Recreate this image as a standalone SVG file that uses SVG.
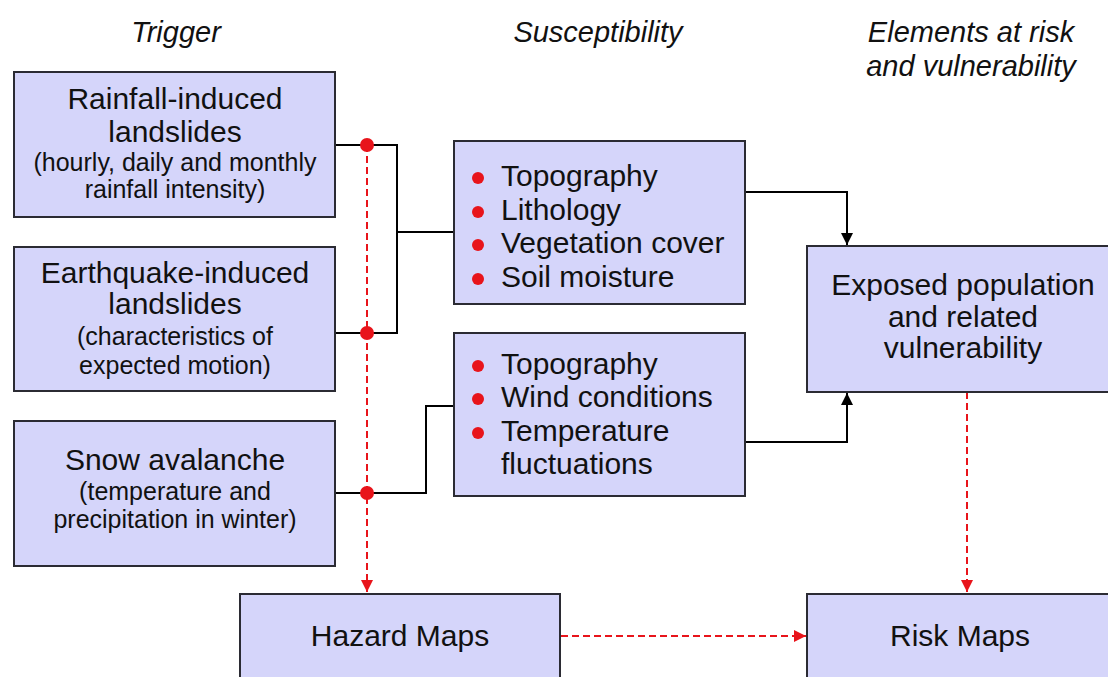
<svg xmlns="http://www.w3.org/2000/svg" width="1108" height="677" viewBox="0 0 1108 677">
<style>
.box{fill:#d5d5fa;stroke:#2b2b33;stroke-width:2}
.t{font-family:"Liberation Sans",Arial,sans-serif;font-size:30px;fill:#111}
.s{font-family:"Liberation Sans",Arial,sans-serif;font-size:25px;fill:#111}
.h{font-family:"Liberation Sans",Arial,sans-serif;font-size:29px;font-style:italic;fill:#111}
.c{text-anchor:middle}
.ln{fill:none;stroke:#000;stroke-width:2}
.rd{fill:none;stroke:#e8141b;stroke-width:2;stroke-dasharray:7,4}
.dot{fill:#e8141b}
</style>
<defs>
<marker id="ab" viewBox="0 0 10 10" refX="10" refY="5" markerWidth="6" markerHeight="6" orient="auto" markerUnits="strokeWidth"><path d="M0,0 L10,5 L0,10 z" fill="#000"/></marker>
<marker id="ar" viewBox="0 0 10 10" refX="10" refY="5" markerWidth="6" markerHeight="6" orient="auto" markerUnits="strokeWidth"><path d="M0,0 L10,5 L0,10 z" fill="#e8141b"/></marker>
</defs>
<rect width="1108" height="677" fill="#fff"/>
<g id="headers">
<text class="h c" x="176" y="42">Trigger</text>
<text class="h c" x="598" y="42">Susceptibility</text>
<text class="h c" x="971" y="42">Elements at risk</text>
<text class="h c" x="971" y="76">and vulnerability</text>
</g>
<g id="connectors">
<path class="ln" d="M335,145 H397 V333 H335"/>
<path class="ln" d="M397,232 H455"/>
<path class="ln" d="M335,493 H426 V406 H455"/>
<path class="ln" d="M745,192 H847 V245" marker-end="url(#ab)"/>
<path class="ln" d="M745,442 H847 V393" marker-end="url(#ab)"/>
<path class="rd" d="M367,145 V592" marker-end="url(#ar)"/>
<path class="rd" d="M967,392 V592" marker-end="url(#ar)"/>
<path class="rd" d="M561,636 H806" stroke-width="2.5" marker-end="url(#ar)"/>
<circle class="dot" cx="367" cy="145" r="7"/>
<circle class="dot" cx="367" cy="333" r="7"/>
<circle class="dot" cx="367" cy="493" r="7"/>
</g>
<g id="rainfall">
<rect class="box" x="14" y="72" width="321" height="145"/>
<text class="t c" x="175" y="109">Rainfall-induced</text>
<text class="t c" x="175" y="142">landslides</text>
<text class="s c" x="175" y="171">(hourly, daily and monthly</text>
<text class="s c" x="175" y="198">rainfall intensity)</text>
</g>
<g id="earthquake">
<rect class="box" x="14" y="247" width="321" height="144"/>
<text class="t c" x="175" y="283">Earthquake-induced</text>
<text class="t c" x="175" y="314">landslides</text>
<text class="s c" x="175" y="345">(characteristics of</text>
<text class="s c" x="175" y="374">expected motion)</text>
</g>
<g id="snow">
<rect class="box" x="14" y="421" width="321" height="145"/>
<text class="t c" x="175" y="470">Snow avalanche</text>
<text class="s c" x="175" y="500">(temperature and</text>
<text class="s c" x="175" y="528">precipitation in winter)</text>
</g>
<g id="susc-landslide">
<rect class="box" x="454" y="141" width="291" height="163"/>
<circle class="dot" cx="478" cy="178" r="6"/>
<circle class="dot" cx="478" cy="212" r="6"/>
<circle class="dot" cx="478" cy="245" r="6"/>
<circle class="dot" cx="478" cy="279" r="6"/>
<text class="t" x="501" y="186">Topography</text>
<text class="t" x="501" y="220">Lithology</text>
<text class="t" x="501" y="253">Vegetation cover</text>
<text class="t" x="501" y="287">Soil moisture</text>
</g>
<g id="susc-avalanche">
<rect class="box" x="454" y="333" width="291" height="163"/>
<circle class="dot" cx="478" cy="366" r="6"/>
<circle class="dot" cx="478" cy="399" r="6"/>
<circle class="dot" cx="478" cy="433" r="6"/>
<text class="t" x="501" y="374">Topography</text>
<text class="t" x="501" y="407">Wind conditions</text>
<text class="t" x="501" y="441">Temperature</text>
<text class="t" x="501" y="474">fluctuations</text>
</g>
<g id="exposed">
<rect class="box" x="807" y="246" width="315" height="146"/>
<text class="t c" x="963" y="295">Exposed population</text>
<text class="t c" x="963" y="327">and related</text>
<text class="t c" x="963" y="358">vulnerability</text>
</g>
<g id="hazard">
<rect class="box" x="240" y="594" width="320" height="110"/>
<text class="t c" x="400" y="646">Hazard Maps</text>
</g>
<g id="risk">
<rect class="box" x="807" y="594" width="315" height="110"/>
<text class="t c" x="960" y="646">Risk Maps</text>
</g>
</svg>
